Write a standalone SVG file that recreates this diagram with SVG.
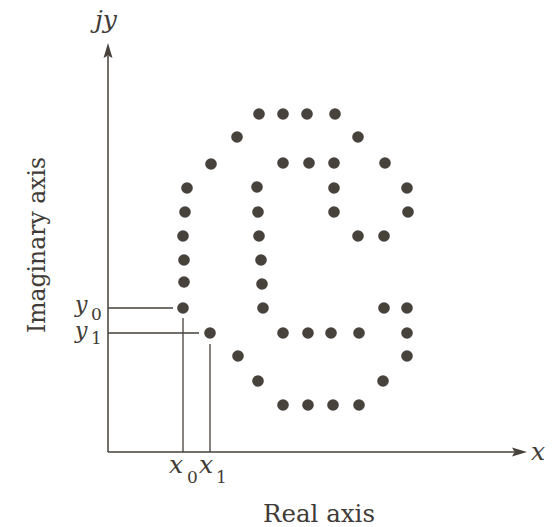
<svg xmlns="http://www.w3.org/2000/svg" width="554" height="527" viewBox="0 0 554 527">
<style>
.ax{stroke:#45403b;stroke-width:1.5;fill:none}
.gd{stroke:#45403b;stroke-width:1.3;fill:none}
.dot{fill:#48423d}
.t{font-family:"DejaVu Serif","Liberation Serif",serif;fill:#403b36}
.it{font-family:"DejaVu Serif","Liberation Serif",serif;font-style:italic;fill:#403b36}
</style>
<rect width="554" height="527" fill="#ffffff"/>
<g id="axes">
<line class="ax" x1="108" y1="452" x2="108" y2="56"/>
<polygon class="dot" points="108,43 103.5,58 108,55.5 112.5,58"/>
<line class="ax" x1="108" y1="452" x2="514" y2="452"/>
<polygon class="dot" points="527,452 512,447.5 514.5,452 512,456.5"/>
</g>
<g id="connectors">
<line class="gd" x1="108" y1="308" x2="173" y2="308"/>
<line class="gd" x1="108" y1="333" x2="199" y2="333"/>
<line class="gd" x1="183" y1="318" x2="183" y2="452"/>
<line class="gd" x1="210" y1="344" x2="210" y2="452"/>
</g>
<g id="dots">
<circle class="dot" cx="259" cy="114" r="5.8"/>
<circle class="dot" cx="283" cy="114" r="5.8"/>
<circle class="dot" cx="307" cy="114" r="5.8"/>
<circle class="dot" cx="335" cy="114" r="5.8"/>
<circle class="dot" cx="237" cy="137" r="5.8"/>
<circle class="dot" cx="358" cy="137" r="5.8"/>
<circle class="dot" cx="211" cy="164" r="5.8"/>
<circle class="dot" cx="283" cy="163" r="5.8"/>
<circle class="dot" cx="309" cy="163" r="5.8"/>
<circle class="dot" cx="334" cy="163" r="5.8"/>
<circle class="dot" cx="385" cy="163" r="5.8"/>
<circle class="dot" cx="187" cy="188" r="5.8"/>
<circle class="dot" cx="257" cy="187" r="5.8"/>
<circle class="dot" cx="334" cy="188" r="5.8"/>
<circle class="dot" cx="407" cy="188" r="5.8"/>
<circle class="dot" cx="185" cy="212" r="5.8"/>
<circle class="dot" cx="258" cy="212" r="5.8"/>
<circle class="dot" cx="334" cy="212" r="5.8"/>
<circle class="dot" cx="408" cy="212" r="5.8"/>
<circle class="dot" cx="183" cy="236" r="5.8"/>
<circle class="dot" cx="259" cy="236" r="5.8"/>
<circle class="dot" cx="358" cy="236" r="5.8"/>
<circle class="dot" cx="384" cy="236" r="5.8"/>
<circle class="dot" cx="184" cy="260" r="5.8"/>
<circle class="dot" cx="261" cy="260" r="5.8"/>
<circle class="dot" cx="184" cy="282" r="5.8"/>
<circle class="dot" cx="262" cy="284" r="5.8"/>
<circle class="dot" cx="183" cy="308" r="5.8"/>
<circle class="dot" cx="263" cy="308" r="5.8"/>
<circle class="dot" cx="384" cy="308" r="5.8"/>
<circle class="dot" cx="407" cy="308" r="5.8"/>
<circle class="dot" cx="210" cy="333" r="5.8"/>
<circle class="dot" cx="283" cy="333" r="5.8"/>
<circle class="dot" cx="308" cy="333" r="5.8"/>
<circle class="dot" cx="331" cy="333" r="5.8"/>
<circle class="dot" cx="359" cy="333" r="5.8"/>
<circle class="dot" cx="407" cy="333" r="5.8"/>
<circle class="dot" cx="238" cy="356" r="5.8"/>
<circle class="dot" cx="407" cy="356" r="5.8"/>
<circle class="dot" cx="258" cy="381" r="5.8"/>
<circle class="dot" cx="383" cy="381" r="5.8"/>
<circle class="dot" cx="283" cy="405" r="5.8"/>
<circle class="dot" cx="308" cy="405" r="5.8"/>
<circle class="dot" cx="333" cy="405" r="5.8"/>
<circle class="dot" cx="359" cy="405" r="5.8"/>
</g>
<g id="labels">
<text class="it" x="95" y="28" font-size="25">jy</text>
<text class="it" x="531" y="460" font-size="25">x</text>
<text class="it" x="169" y="473" font-size="25">x</text>
<text class="t" x="187" y="483" font-size="17">0</text>
<text class="it" x="199" y="473" font-size="25">x</text>
<text class="t" x="216" y="483" font-size="17">1</text>
<text class="it" x="75" y="312" font-size="22">y</text>
<text class="t" x="91" y="320" font-size="17">0</text>
<text class="it" x="75" y="338" font-size="22">y</text>
<text class="t" x="91" y="344" font-size="17">1</text>
<text class="t" x="319" y="522" font-size="24" text-anchor="middle" textLength="112" lengthAdjust="spacingAndGlyphs">Real axis</text>
<text class="t" transform="translate(45,245) rotate(-90)" font-size="24" text-anchor="middle" textLength="176" lengthAdjust="spacingAndGlyphs">Imaginary axis</text>
</g>
</svg>
